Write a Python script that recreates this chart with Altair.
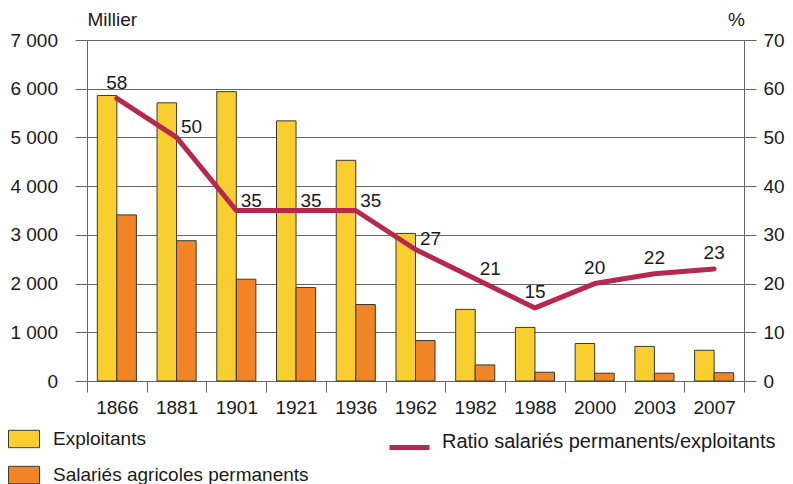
import altair as alt
import pandas as pd

years = ["1866", "1881", "1901", "1921", "1936", "1962", "1982", "1988", "2000", "2003", "2007"]
exploitants = [5860, 5710, 5940, 5340, 4530, 3030, 1470, 1100, 770, 710, 630]
salaries = [3410, 2880, 2090, 1920, 1570, 830, 330, 180, 160, 160, 170]
ratio = [58, 50, 35, 35, 35, 27, 21, 15, 20, 22, 23]
series = ["Exploitants", "Salariés agricoles permanents"]
line_name = "Ratio salariés permanents/exploitants"
left_ticks = [0, 1000, 2000, 3000, 4000, 5000, 6000, 7000]
right_ticks = [0, 10, 20, 30, 40, 50, 60, 70]
labels_right_of_point = ["1881", "1901", "1921", "1936", "1962", "1982"]

bars_df = pd.DataFrame({
    "year": years * 2,
    "series": [series[0]] * len(years) + [series[1]] * len(years),
    "value": exploitants + salaries,
})
line_df = pd.DataFrame({"year": years, "ratio": ratio, "name": [line_name] * len(years)})

FONT = "Liberation Sans"
AX = "#666666"
TXT = "#1a1a1a"
YELLOW = "#F9CF30"
ORANGE = "#F18424"
RED = "#B8284C"
EDGE = "#3b3a30"

x_enc = alt.X(
    "year:N", sort=years,
    scale=alt.Scale(paddingInner=0, paddingOuter=0),
    axis=alt.Axis(title=None, labelAngle=0, tickBand="extent", tickSize=11,
                  labelPadding=6.5, labelFontSize=19, domainColor=AX, tickColor=AX,
                  labelColor=TXT, grid=False),
)

bars = alt.Chart(bars_df).mark_bar(stroke=EDGE, strokeWidth=1).encode(
    x=x_enc,
    xOffset=alt.XOffset("series:N", sort=series,
                        scale=alt.Scale(paddingOuter=0.528, paddingInner=0)),
    y=alt.Y("value:Q", scale=alt.Scale(domain=[0, 7000], nice=False),
            axis=alt.Axis(values=left_ticks, grid=True, gridColor=AX, tickColor=AX,
                          domainColor=AX, tickSize=12, labelPadding=17.5, labelFontSize=19,
                          labelColor=TXT,
                          labelExpr="replace(format(datum.value, ','), ',', ' ')",
                          title="Millier", titleAngle=0, titleX=0, titleY=-14.5,
                          titleAlign="left", titleBaseline="alphabetic",
                          titleFontSize=19, titleFontWeight="normal", titleColor=TXT)),
    fill=alt.Fill("series:N", scale=alt.Scale(domain=series, range=[YELLOW, ORANGE]),
                  legend=alt.Legend(title=None, orient="none", legendX=-79, legendY=383,
                                    direction="vertical", padding=0,
                                    symbolType="M-1,-0.56H1V0.56H-1Z", symbolSize=961,
                                    symbolStrokeColor=EDGE, symbolStrokeWidth=1,
                                    symbolOpacity=1,
                                    labelFontSize=19, labelOffset=13, labelColor=TXT,
                                    rowPadding=9, labelLimit=400)),
)

y_line = alt.Y("ratio:Q", scale=alt.Scale(domain=[0, 70], nice=False),
               axis=alt.Axis(orient="right", values=right_ticks, grid=False, tickColor=AX,
                             domainColor=AX, tickSize=12, labelPadding=7, labelFontSize=19,
                             labelColor=TXT,
                             title="%", titleAngle=0, titleX=-8, titleY=-14.5,
                             titleAlign="center", titleBaseline="alphabetic",
                             titleFontSize=19, titleFontWeight="normal", titleColor=TXT))

line = alt.Chart(line_df).mark_line(strokeWidth=5, strokeCap="round", strokeJoin="round").encode(
    x=x_enc,
    y=y_line,
    stroke=alt.Stroke("name:N", scale=alt.Scale(domain=[line_name], range=[RED]),
                      legend=alt.Legend(title=None, orient="none", legendX=300, legendY=385,
                                        padding=0, symbolType="stroke", symbolSize=1600,
                                        symbolStrokeWidth=5, labelFontSize=20, labelOffset=10,
                                        labelBaseline="alphabetic", labelColor=TXT,
                                        labelLimit=500)),
)

base_txt = alt.Chart(line_df)
txt_center = base_txt.transform_filter(
    ~alt.FieldOneOfPredicate(field="year", oneOf=labels_right_of_point)
).mark_text(fontSize=19, font=FONT, color=TXT, dy=-15.5, align="center", baseline="middle").encode(
    x=x_enc, y=y_line, text=alt.Text("ratio:Q"))
txt_right = base_txt.transform_filter(
    alt.FieldOneOfPredicate(field="year", oneOf=labels_right_of_point)
).mark_text(fontSize=19, font=FONT, color=TXT, dx=15, dy=-10, align="center", baseline="middle").encode(
    x=x_enc, y=y_line, text=alt.Text("ratio:Q"))

line_layer = alt.layer(line, txt_center, txt_right)

chart = alt.layer(bars, line_layer).resolve_scale(y="independent").properties(
    width=657, height=341,
    autosize=alt.AutoSizeParams(type="none"),
    padding={"left": 79, "top": 32, "right": 41, "bottom": 105},
).configure_view(stroke=None).configure_axis(
    labelFont=FONT, titleFont=FONT
).configure_legend(labelFont=FONT)

chart.save("out.html", embed_options={"renderer": "svg", "actions": False})
